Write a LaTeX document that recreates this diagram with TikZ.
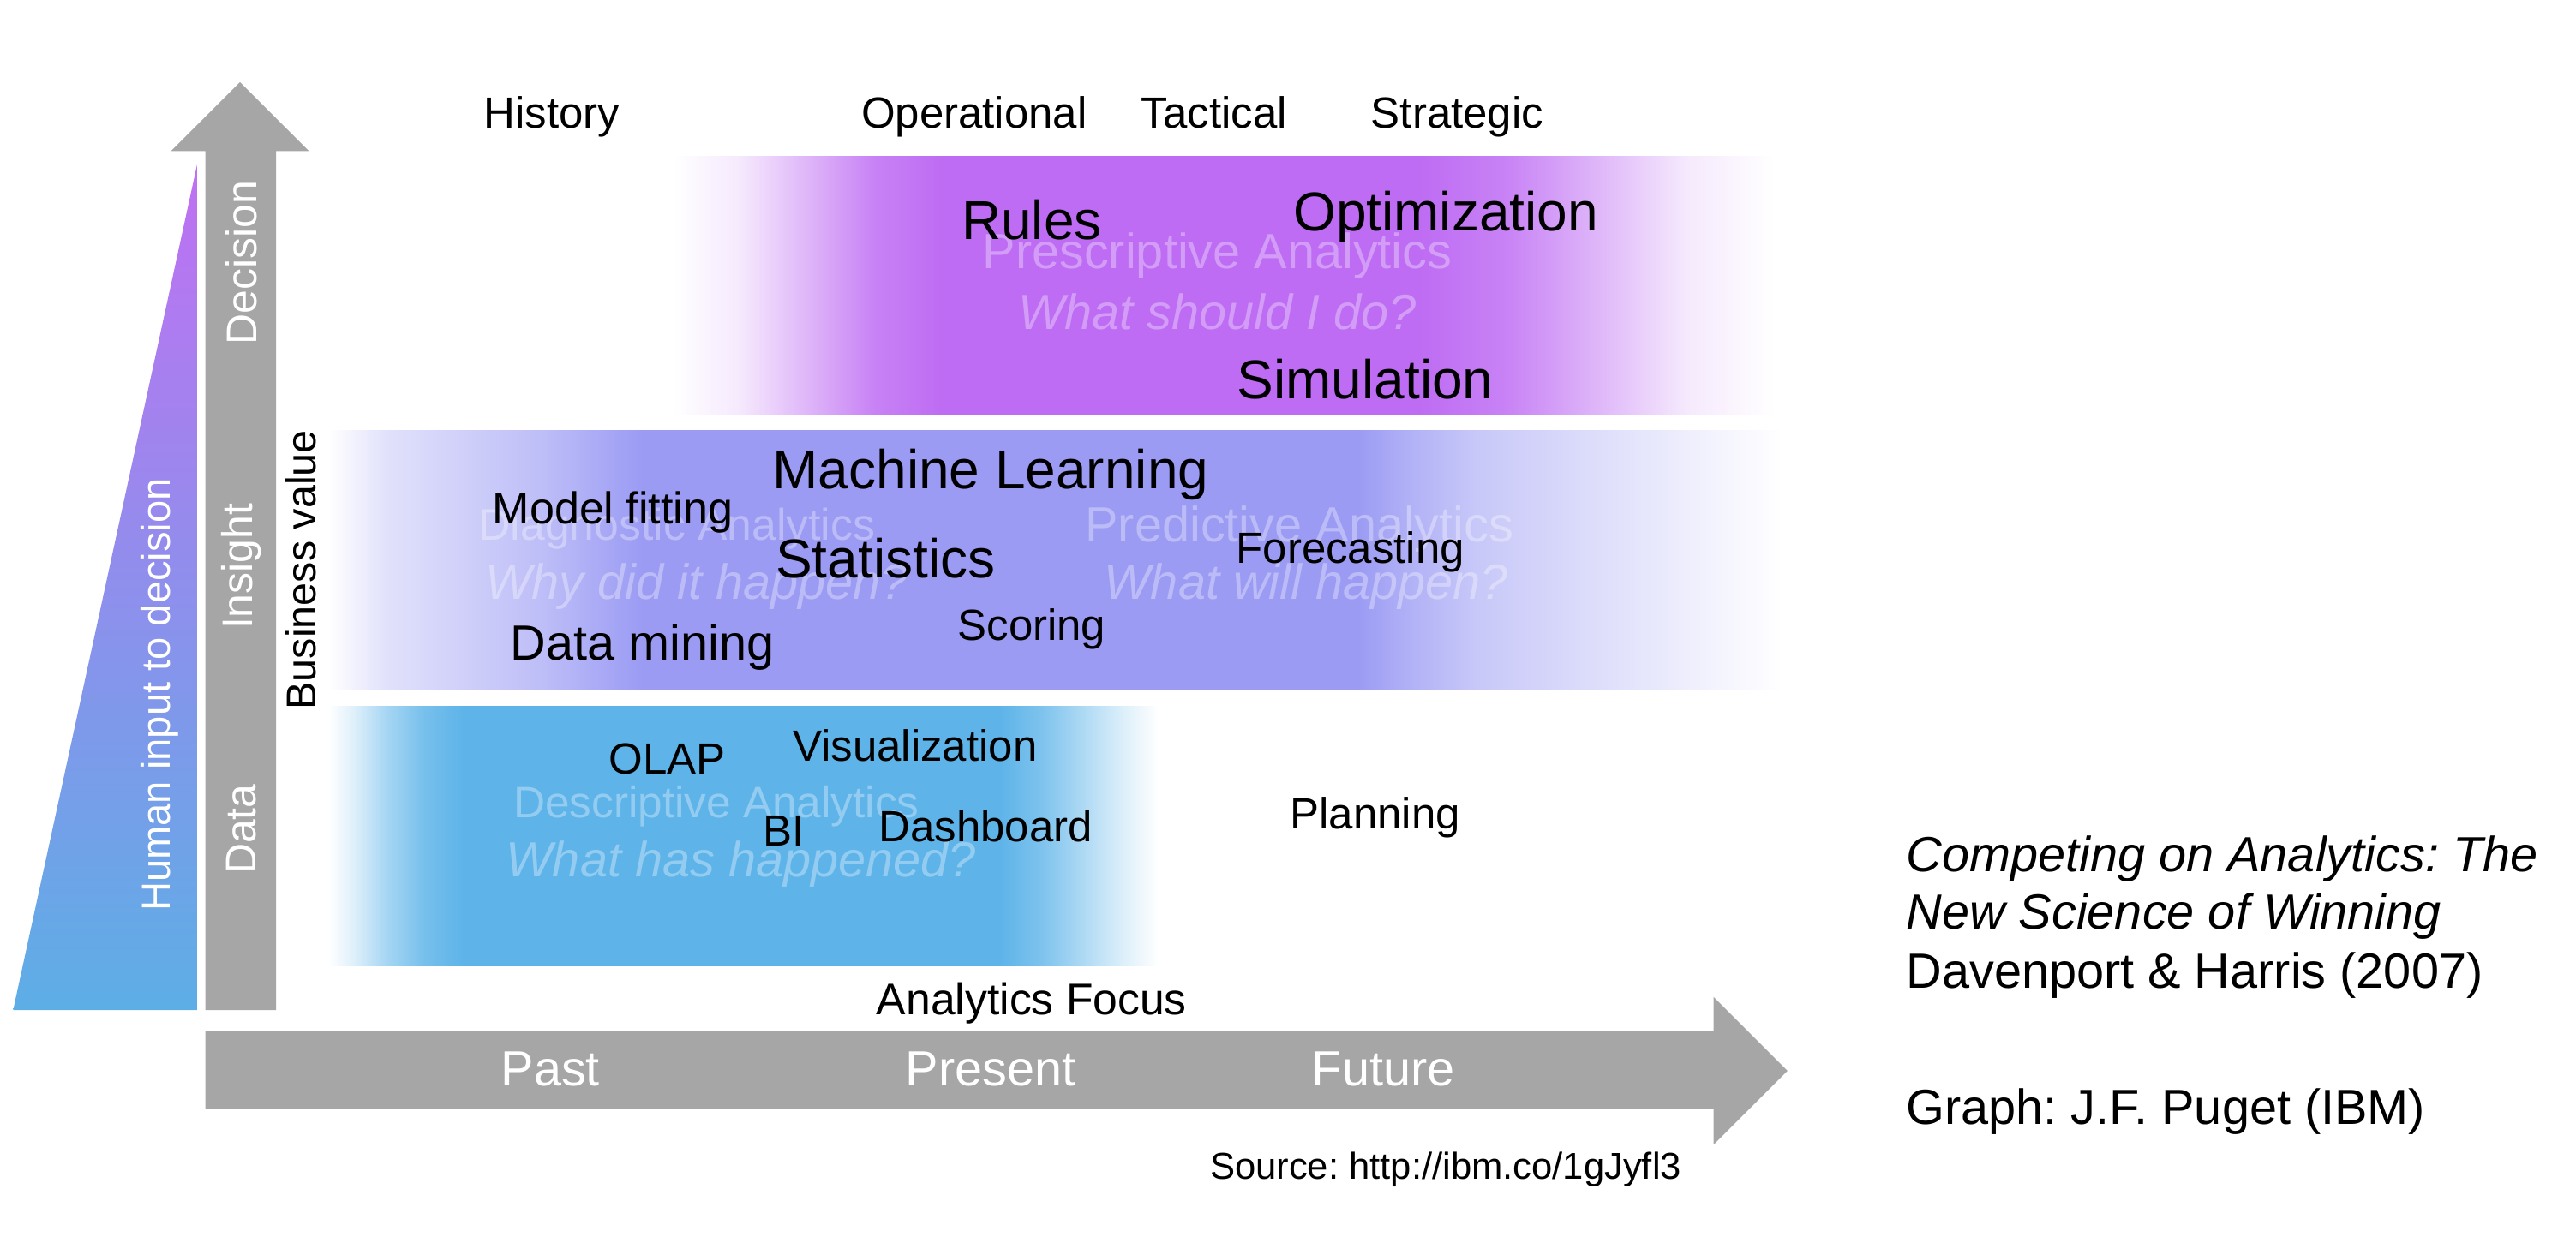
\documentclass[tikz,border=0pt]{standalone}
\usepackage{fontspec}
\setmainfont{Liberation Sans}
\frenchspacing
\definecolor{arrowgray}{HTML}{A6A6A6}
\definecolor{presc}{HTML}{BE6CF3}
\definecolor{pred}{HTML}{9B9BF4}
\definecolor{descr}{HTML}{5EB4E9}
\definecolor{humtop}{HTML}{C070F2}
\definecolor{humbot}{HTML}{5DAEE6}
\pgfdeclarehorizontalshading{prescband}{100bp}{color(0bp)=(white); color(25bp)=(white); color(28bp)=(presc!15); color(31.1bp)=(presc!50); color(34.1bp)=(presc!85); color(37.2bp)=(presc); color(58.8bp)=(presc); color(62.8bp)=(presc!85); color(66.9bp)=(presc!50); color(71bp)=(presc!15); color(75bp)=(white); color(100bp)=(white)}
\pgfdeclarehorizontalshading{predband}{100bp}{color(0bp)=(white); color(25bp)=(white); color(27bp)=(pred!30); color(30bp)=(pred!50); color(32.3bp)=(pred!65); color(35.8bp)=(pred); color(60.4bp)=(pred); color(62bp)=(pred!80); color(64.5bp)=(pred!55); color(70.2bp)=(pred!25); color(73bp)=(pred!10); color(75bp)=(white); color(100bp)=(white)}
\pgfdeclarehorizontalshading{descrband}{100bp}{color(0bp)=(white); color(25bp)=(white); color(26.5bp)=(descr!20); color(28.5bp)=(descr!55); color(30.8bp)=(descr!85); color(33.1bp)=(descr); color(65.5bp)=(descr); color(68bp)=(descr!80); color(70.5bp)=(descr!50); color(73bp)=(descr!20); color(75bp)=(white); color(100bp)=(white)}
\begin{document}
\begin{tikzpicture}[x=0.01917cm, y=-0.01917cm,
	lbl/.style={inner sep=0pt, font=\fontsize{14.5}{17}\selectfont},
	big/.style={inner sep=0pt, font=\fontsize{18.2}{21}\selectfont},
	faint/.style={inner sep=0pt, font=\fontsize{16.4}{19}\selectfont, text=white, text opacity=0.33},
	axislbl/.style={inner sep=0pt, text=white, font=\fontsize{16.4}{19}\selectfont},
	cite/.style={inner sep=0pt, anchor=west, font=\fontsize{16.4}{19}\selectfont}]
	\useasboundingbox (0,0) rectangle (1568,753);

	% bands
	\shade[shading=prescband] (410,95) rectangle (1080,252);
	\shade[shading=predband] (200,262) rectangle (1085,420);
	\shade[shading=descrband] (200,430) rectangle (705,588);

	% human input triangle and the two arrows
	\shade[top color=humtop, bottom color=humbot] (8,615) -- (120,615) -- (120,100) -- cycle;
	\fill[arrowgray] (125,615) -- (125,92) -- (104,92) -- (146,50) -- (188,92) -- (168,92) -- (168,615) -- cycle;
	\fill[arrowgray] (125,628) -- (1043,628) -- (1043,607) -- (1088,652) -- (1043,697) -- (1043,675) -- (125,675) -- cycle;

	\node[inner sep=0pt, rotate=90, text=white, font=\fontsize{13.4}{16}\selectfont] (human) at (97,423) {Human input to decision};
	\node[axislbl, rotate=90, font=\fontsize{14.2}{17}\selectfont] (decision) at (147,160) {Decision};
	\node[axislbl, rotate=90, font=\fontsize{14.2}{17}\selectfont] (insight) at (147,345) {Insight};
	\node[axislbl, rotate=90, font=\fontsize{14.2}{17}\selectfont] (data) at (147,505) {Data};
	\node[lbl, rotate=90, font=\fontsize{13.8}{16}\selectfont] (value) at (183,347) {Business value};

	\node[lbl, anchor=base] (history) at (336,78) {History};
	\node[lbl, anchor=base] (operational) at (593,78) {Operational};
	\node[lbl, anchor=base] (tactical) at (739,78) {Tactical};
	\node[lbl, anchor=base] (strategic) at (887,78) {Strategic};

	% prescriptive
	\node[faint] (prescr) at (741,156) {Prescriptive Analytics};
	\node[faint, font=\fontsize{16.4}{19}\selectfont\itshape] (prescrq) at (741,190) {What should I do?};
	\node[big] (rules) at (628,134) {Rules};
	\node[big] (optim) at (880,132) {Optimization};
	\node[big] (simul) at (831,231) {Simulation};

	% diagnostic and predictive
	\node[faint, font=\fontsize{14.7}{17}\selectfont] (diagn) at (412,322) {Diagnostic Analytics};
	\node[faint, font=\fontsize{16.4}{19}\selectfont\itshape] (diagnq) at (424,357) {Why did it happen?};
	\node[faint] (predi) at (791,322) {Predictive Analytics};
	\node[faint, font=\fontsize{16.4}{19}\selectfont\itshape] (prediq) at (795,357) {What will happen?};
	\node[big] (ml) at (603,289) {Machine Learning};
	\node[lbl, font=\fontsize{14.8}{17}\selectfont] (fitting) at (373,312) {Model fitting};
	\node[big] (stats) at (539,340) {Statistics};
	\node[lbl] (forecast) at (822,336) {Forecasting};
	\node[lbl, font=\fontsize{16.4}{19}\selectfont] (mining) at (391,394) {Data mining};
	\node[lbl] (scoring) at (628,383) {Scoring};

	% descriptive
	\node[faint, font=\fontsize{14.6}{17}\selectfont] (descr) at (436,491) {Descriptive Analytics};
	\node[faint, font=\fontsize{16.4}{19}\selectfont\itshape] (descrq) at (451,526) {What has happened?};
	\node[lbl] (olap) at (406,462) {OLAP};
	\node[lbl] (visual) at (557,454) {Visualization};
	\node[lbl] (bi) at (477,506) {BI};
	\node[lbl] (dash) at (600,503) {Dashboard};
	\node[lbl] (planning) at (837,498) {Planning};

	% time axis
	\node[lbl, font=\fontsize{14.7}{17}\selectfont] (focus) at (628,611) {Analytics Focus};
	\node[axislbl] (past) at (335,651) {Past};
	\node[axislbl] (present) at (603,651) {Present};
	\node[axislbl] (future) at (842,651) {Future};
	\node[lbl, font=\fontsize{12.4}{15}\selectfont] (source) at (880,712) {Source: http://ibm.co/1gJyfl3};

	\node[cite, font=\fontsize{16.4}{19}\selectfont\itshape] (book1) at (1160,523) {Competing on Analytics: The};
	\node[cite, font=\fontsize{16.4}{19}\selectfont\itshape] (book2) at (1160,558) {New Science of Winning};
	\node[cite] (authors) at (1160,594) {Davenport \& Harris (2007)};
	\node[cite] (graph) at (1160,677) {Graph: J.F. Puget (IBM)};
\end{tikzpicture}
\end{document}
